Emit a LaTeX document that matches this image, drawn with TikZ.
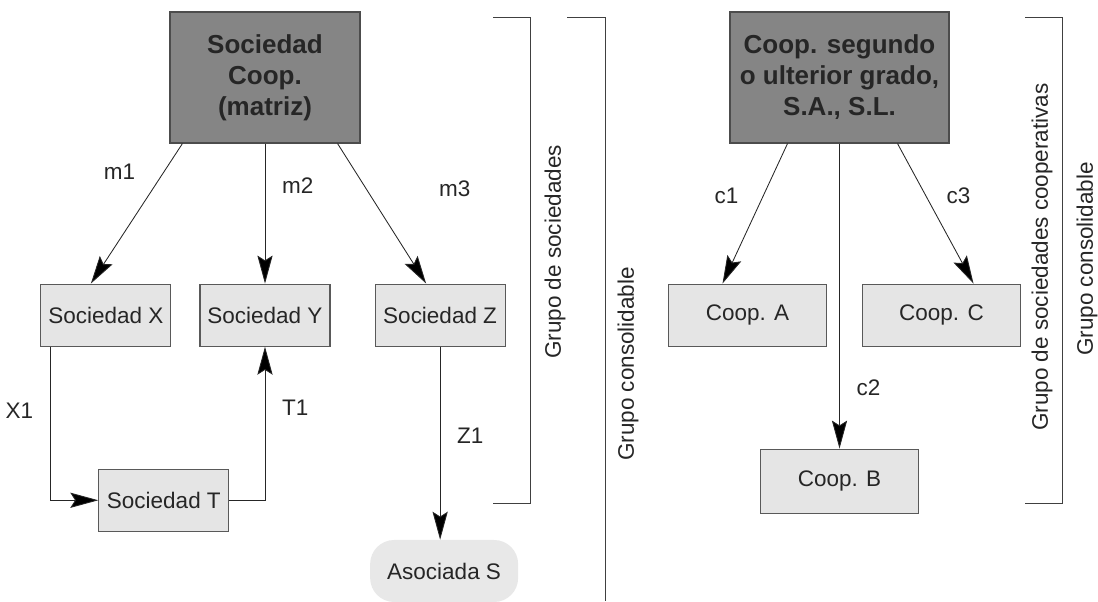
\documentclass[tikz,border=0pt]{standalone}
\usepackage{fontspec}
\setmainfont{Liberation Sans}
\usetikzlibrary{positioning, arrows.meta}

\begin{document}
\begin{tikzpicture}[
    x=0.25mm, y=-0.25mm,
    >=Stealth,
    head/.style={rectangle, draw=black!70, fill=black!48, line width=0.8pt,
                 minimum width=47.5mm, minimum height=32.75mm,
                 align=center, text=black!85,
                 font=\fontsize{18.5}{22}\selectfont\bfseries},
    soc/.style={rectangle, draw=black!65, fill=black!10, line width=0.8pt,
                minimum width=32.5mm, minimum height=15.5mm,
                text=black!85, font=\fontsize{16}{19}\selectfont},
    coop/.style={soc, minimum width=39.5mm},
    assoc/.style={rectangle, rounded corners=6mm, fill=black!9,
                  minimum width=37mm, minimum height=15.5mm,
                  text=black!85, font=\fontsize{16}{19}\selectfont},
    arrow/.style={-{Stealth[length=7mm, width=3.8mm, inset=1.2mm, fill=black]},
                  line width=0.6pt, draw=black!85},
    lbl/.style={text=black!85, font=\fontsize{16}{19}\selectfont},
    grp/.style={rotate=90, text=black!85, font=\fontsize{16}{19}\selectfont},
    brace/.style={line width=0.6pt, draw=black!75}
]
  \useasboundingbox (0,0) rectangle (1098,601);

  \node[head] (coopm) at (265,77.5) {Sociedad\\Coop.\\(matriz)};
  \node[soc, below=35mm of coopm] (sy) {Sociedad Y};
  \node[soc, left=7mm of sy] (sx) {Sociedad X};
  \node[soc, right=11mm of sy] (sz) {Sociedad Z};
  \node[soc, below=30.5mm of sx, xshift=14.5mm] (st) {Sociedad T};
  \node[assoc, below=48.25mm of sz, xshift=1mm] (sa) {Asociada S};

  \node[head, minimum width=54.75mm] (coopsg) at (839.5,77.5) {Coop. segundo\\o ulterior grado,\\S.A., S.L.};
  \node[coop, below=35mm of coopsg, xshift=-23mm] (ca) {Coop. A};
  \node[coop, below=35mm of coopsg, xshift=25.5mm] (cc) {Coop. C};
  \node[coop, below=76.25mm of coopsg, minimum height=16mm] (cb) {Coop. B};

  \draw[arrow] ([xshift=3.25mm]coopm.south west) -- node[lbl, pos=.2, left=6mm] {m1} ([xshift=-3.75mm]sx.north);
  \draw[arrow] (coopm.south) -- node[lbl, pos=.3, right=3mm] {m2} (coopm.south |- sy.north);
  \draw[arrow] ([xshift=-5.75mm]coopm.south east) -- node[lbl, pos=.32, right=17mm] {m3} ([xshift=-3.5mm]sz.north);
  \draw[arrow] ([xshift=2.5mm]sx.south west) |- node[lbl, pos=.21, left=3mm] {X1} (st.west);
  \draw[arrow] (st.east) -| node[lbl, pos=.8, right=3mm] {T1} (sy.south);
  \draw[arrow] (sz.south) -- node[lbl, pos=.46, right=3mm] {Z1} (sz.south |- sa.north);

  \draw[arrow] ([xshift=-13mm]coopsg.south) -- node[lbl, pos=.37, left=5mm] {c1} ([xshift=-6.25mm]ca.north);
  \draw[arrow] (coopsg.south) -- node[lbl, pos=.8, right=3mm] {c2} (coopsg.south |- cb.north);
  \draw[arrow] ([xshift=14.5mm]coopsg.south) -- node[lbl, pos=.37, right=4mm] {c3} ([xshift=8mm]cc.north);

  % corchetes de los grupos
  \coordinate (gsa) at (530,17);
  \coordinate (gsb) at (530,503);
  \coordinate (gca) at (605,17);
  \coordinate (gcb) at (605,601);
  \coordinate (gra) at (1062,17);
  \coordinate (grb) at (1062,503);
  \draw[brace] ([xshift=-9.25mm]gsa) -- (gsa) -- (gsb) -- ([xshift=-9.25mm]gsb);
  \draw[brace] ([xshift=-9.5mm]gca) -- (gca) -- (gcb);
  \draw[brace] ([xshift=-9.25mm]gra) -- (gra) -- (grb) -- ([xshift=-9.25mm]grb);

  \node[grp] (lgs) at (555,252) {Grupo de sociedades};
  \node[grp] (lgc) at (628,364) {Grupo consolidable};
  \node[grp] (lgsc) at (1042,257) {Grupo de sociedades cooperativas};
  \node[grp] (lgcc) at (1087,259) {Grupo consolidable};
\end{tikzpicture}
\end{document}
